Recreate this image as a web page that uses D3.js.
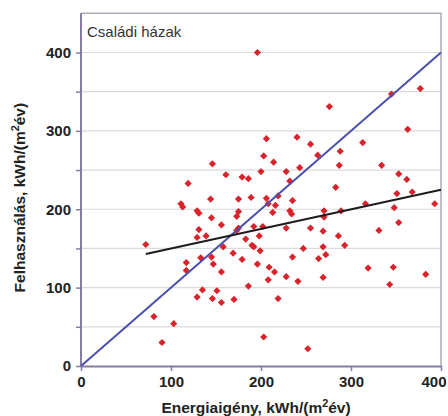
<!DOCTYPE html>
<html>
<head>
<meta charset="utf-8">
<script src="https://cdn.jsdelivr.net/npm/d3@7"></script>
<style>
  html, body { margin: 0; padding: 0; background: #fff; }
  svg { display: block; font-family: "Liberation Sans", Arial, sans-serif; }
</style>
</head>
<body>
<svg id="chart" width="448" height="416"></svg>
<script>
// Energy demand (x) and measured consumption (y), kWh/(m²év), one entry per house
const demand = [196, 276, 377, 345, 363, 206, 240, 255, 313, 263, 288, 243, 287, 334, 353, 362,
  283, 351, 368, 316, 393, 348, 270, 270, 289, 255, 269, 331, 353, 286, 247, 269, 293, 264, 272,
  241, 269, 319, 347, 343, 383, 252, 169, 199, 117, 117, 133, 145, 147, 179, 156, 196, 209, 215,
  235, 228, 208, 186, 135, 151, 129, 146, 156, 170, 219, 203, 81, 103, 90, 119, 111, 113, 72,
  203, 214, 146, 200, 228, 161, 179, 186, 232, 144, 175, 189, 206, 219, 235, 208, 216, 129, 131,
  175, 173, 213, 232, 234, 145, 156, 175, 192, 202, 228, 131, 173, 129, 139, 198, 183, 158, 190, 192];
const consumption = [400, 331, 354, 347, 302, 290, 292, 283, 285, 269, 274, 253, 256, 256, 245, 238,
  228, 220, 222, 207, 207, 202, 198, 190, 198, 176, 172, 173, 183, 166, 150, 152, 154, 137, 142,
  108, 113, 125, 126, 104, 117, 22, 144, 147, 132, 122, 138, 139, 130, 136, 120, 130, 126, 120,
  139, 114, 110, 102, 97, 96, 88, 86, 81, 85, 86, 37, 63, 54, 30, 233, 207, 203, 155,
  268, 260, 258, 248, 248, 244, 241, 239, 236, 213, 213, 215, 214, 217, 211, 207, 205, 198, 195,
  197, 191, 196, 198, 194, 189, 180, 176, 178, 178, 176, 174, 173, 164, 166, 166, 162, 152, 154, 152];

// Reference line (consumption = demand) and fitted trend line
const equalX = [0, 400], equalY = [0, 400];
const trendX = [72, 400], trendY = [143, 225];

const xTicks = [0, 100, 200, 300, 400];
const yTicks = [0, 100, 200, 300, 400];
const yGrid = [50, 100, 150, 200, 250, 300, 350, 400];
const yMinorTicks = [0, 50, 100, 150, 200, 250, 300, 350, 400];

const panelTitle = "Családi házak";

const svg = d3.select("#chart");
const m = { left: 81, right: 441, top: 13.3, bottom: 366 };

const x = d3.scaleLinear().domain([0, 400]).range([m.left, m.right]);
const y = d3.scaleLinear().domain([0, 450]).range([m.bottom, m.top]);

// horizontal gridlines
svg.append("g").selectAll("line").data(yGrid).join("line")
  .attr("x1", m.left).attr("x2", m.right)
  .attr("y1", d => y(d)).attr("y2", d => y(d))
  .attr("stroke", "#dadada").attr("stroke-width", 1.2);

// frame: top and right edges
svg.append("path")
  .attr("d", `M${m.left},${m.top}H${m.right}V${m.bottom}`)
  .attr("fill", "none").attr("stroke", "#aeaab8").attr("stroke-width", 1.5);

// y axis
const yAxis = svg.append("g").attr("transform", `translate(${m.left},0)`)
  .call(d3.axisLeft(y).tickValues(yMinorTicks).tickSize(5).tickSizeOuter(0)
    .tickFormat(d => yTicks.includes(d) ? d : ""));
yAxis.select(".domain").attr("stroke", "#857ca6").attr("stroke-width", 2)
  .attr("d", `M0,${m.top}V${m.bottom}`);
yAxis.selectAll(".tick line").attr("stroke", "#857ca6").attr("stroke-width", 1.5);
yAxis.selectAll(".tick text").attr("font-size", 15).attr("font-weight", "bold")
  .attr("fill", "#222").attr("x", -10)
  .attr("font-family", "'Liberation Sans', Arial, sans-serif");

// x axis
const xAxis = svg.append("g").attr("transform", `translate(0,${m.bottom})`)
  .call(d3.axisBottom(x).tickValues(xTicks).tickSize(5).tickSizeOuter(0));
xAxis.select(".domain").attr("stroke", "#857ca6").attr("stroke-width", 2);
xAxis.selectAll(".tick line").attr("stroke", "#857ca6").attr("stroke-width", 1.5);
xAxis.selectAll(".tick text").attr("font-size", 15).attr("font-weight", "bold")
  .attr("fill", "#222").attr("y", 10)
  .attr("font-family", "'Liberation Sans', Arial, sans-serif");
// keep the last label inside the page edge
xAxis.selectAll(".tick text").filter(d => d === 400)
  .attr("text-anchor", "end").attr("x", 5);

// points
const pts = demand.map((d, i) => [d, consumption[i]]);
svg.append("g").selectAll("path").data(pts).join("path")
  .attr("d", d3.symbol(d3.symbolSquare, 26))
  .attr("transform", d => `translate(${x(d[0])},${y(d[1])}) rotate(45)`)
  .attr("fill", "#d9232b");

// lines
const line = d3.line().x(d => x(d[0])).y(d => y(d[1]));
svg.append("path").datum(equalX.map((d, i) => [d, equalY[i]]))
  .attr("d", line).attr("fill", "none").attr("stroke", "#4b4fae").attr("stroke-width", 2);
svg.append("path").datum(trendX.map((d, i) => [d, trendY[i]]))
  .attr("d", line).attr("fill", "none").attr("stroke", "#1c1c1c").attr("stroke-width", 2);

// panel title
svg.append("text").attr("x", 87).attr("y", 37)
  .attr("font-size", 15).attr("fill", "#333").text(panelTitle);

// axis titles
function unitTitle(sel, lead) {
  sel.append("tspan").text(lead + ", kWh/(m");
  sel.append("tspan").attr("baseline-shift", "super").attr("font-size", "70%").text("2");
  sel.append("tspan").text("év)");
}
svg.append("text").attr("x", 256).attr("y", 413)
  .attr("text-anchor", "middle").attr("font-size", 15.5).attr("font-weight", "bold")
  .attr("fill", "#222").call(unitTitle, "Energiaigény");
svg.append("text").attr("transform", `translate(25,${(m.top + m.bottom) / 2 + 8}) rotate(-90)`)
  .attr("text-anchor", "middle").attr("font-size", 15.5).attr("font-weight", "bold")
  .attr("fill", "#222").call(unitTitle, "Felhasználás");
</script>
</body>
</html>
